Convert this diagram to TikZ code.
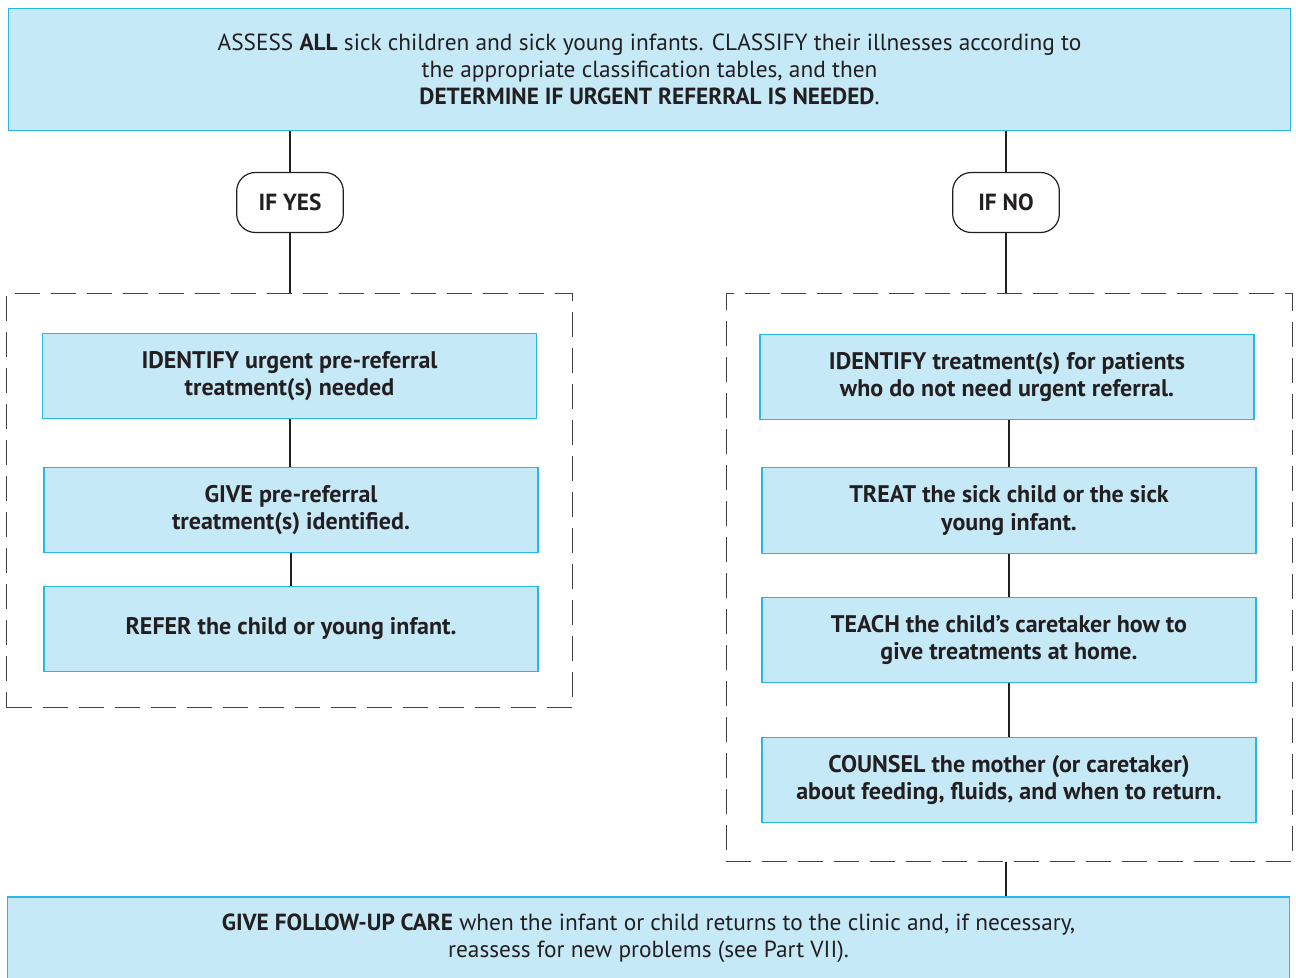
\documentclass[tikz,border=0pt]{standalone}
\usepackage{fontspec}
\setmainfont{PT Sans}
\usetikzlibrary{positioning}

\definecolor{boxfill}{HTML}{C6E9F8}
\definecolor{boxline}{HTML}{29B6EE}
\definecolor{inkgray}{HTML}{231F20}

\tikzset{
  stepbox/.style={draw=boxline, fill=boxfill, line width=0.9pt, align=center,
    inner sep=0pt, text=inkgray, font=\fontsize{18}{20.5}\selectfont\bfseries},
  widebox/.style={stepbox, font=\fontsize{17.5}{20.25}\selectfont},
  answer/.style={draw=inkgray, rounded corners=14pt, line width=0.9pt, fill=white,
    minimum width=80pt, minimum height=45pt, text=inkgray,
    font=\fontsize{17.5}{20}\selectfont\bfseries},
  group/.style={draw=inkgray!85, dash pattern=on 19pt off 8pt, line width=0.75pt, inner sep=0pt},
  link/.style={draw=inkgray, line width=1.5pt}
}

\begin{document}
\begin{tikzpicture}[x=0.75pt, y=-0.75pt]
  \useasboundingbox (0,0) rectangle (1296,978);

  % top and bottom boxes
  \node[widebox, minimum width=962pt, minimum height=91.5pt] (assess) at (649.5,69.5)
    {ASSESS \textbf{ALL} sick children and sick young infants. CLASSIFY their illnesses according to\\
     the appropriate classification tables, and then\\
     \textbf{DETERMINE IF URGENT REFERRAL IS NEEDED}.};
  \node[widebox, minimum width=962pt, minimum height=61.5pt] (followup) at (648.5,938)
    {\textbf{GIVE FOLLOW-UP CARE} when the infant or child returns to the clinic and, if necessary,\\
     reassess for new problems (see Part VII).};

  % answers
  \node[answer] (ifyes) at (290,202.5) {IF YES};
  \node[answer] (ifno) at (1006,202.5) {IF NO};

  % dashed groups
  \node[group, minimum width=424pt, minimum height=311pt] (yesgroup) at (289.5,500.5) {};
  \node[group, minimum width=424.5pt, minimum height=426pt] (nogroup) at (1009,577) {};

  % referral branch
  \node[stepbox, minimum width=371pt, minimum height=63.75pt] (identify) at (289.5,376)
    {IDENTIFY urgent pre-referral\\ treatment(s) needed};
  \node[stepbox, minimum width=370.5pt, minimum height=63.75pt] (give) at (291,510)
    {GIVE pre-referral\\ treatment(s) identified.};
  \node[stepbox, minimum width=370.5pt, minimum height=63.75pt] (refer) at (291,629)
    {REFER the child or young infant.};

  % home treatment branch
  \node[stepbox, minimum width=370.5pt, minimum height=63.75pt] (identifyhome) at (1007,377)
    {IDENTIFY treatment(s) for patients\\ who do not need urgent referral.};
  \node[stepbox, minimum width=370.5pt, minimum height=64.5pt] (treat) at (1009,510.5)
    {TREAT the sick child or the sick\\ young infant.};
  \node[stepbox, minimum width=370.5pt, minimum height=63.75pt] (teach) at (1009,640)
    {TEACH the child’s caretaker how to\\ give treatments at home.};
  \node[stepbox, minimum width=370.5pt, minimum height=63.75pt] (counsel) at (1009,780)
    {COUNSEL the mother (or caretaker)\\ about feeding, fluids, and when to return.};

  % connectors
  \draw[link] (assess.south -| ifyes) -- (ifyes);
  \draw[link] (ifyes) -- (ifyes |- yesgroup.north);
  \draw[link] (assess.south -| ifno) -- (ifno);
  \draw[link] (ifno) -- (ifno |- nogroup.north);
  \draw[link] (identify) -- (identify |- give.north);
  \draw[link] (give) -- (refer);
  \draw[link] (identifyhome.south -| treat) -- (treat);
  \draw[link] (treat) -- (teach);
  \draw[link] (teach) -- (counsel);
  \draw[link] (nogroup.south -| ifno) -- (followup.north -| ifno);
\end{tikzpicture}
\end{document}
